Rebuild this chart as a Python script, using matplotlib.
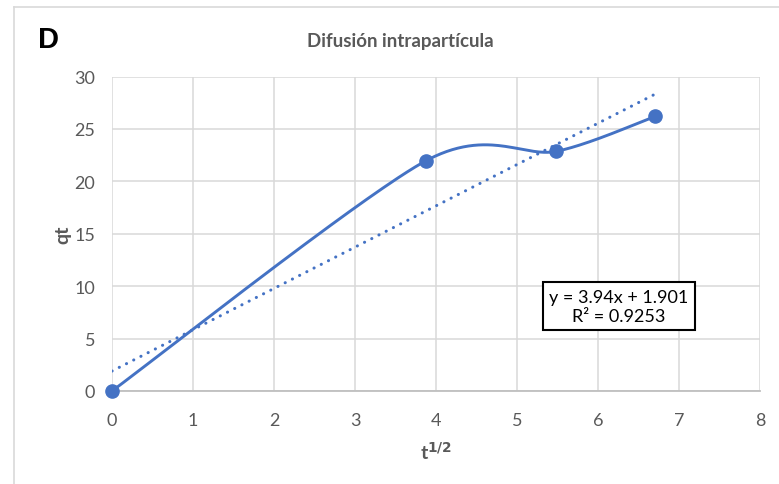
import numpy as np
import matplotlib
matplotlib.use("Agg")
import matplotlib.pyplot as plt
from matplotlib.lines import Line2D

# Data
t_minutes = [0, 15, 30, 45]
x_sqrt_t = [0.0, 3.873, 5.477, 6.708]
qt = [0.0, 21.95, 22.85, 26.2]
slope = 3.94
intercept = 1.901
r2 = 0.9253
x_ticks = [0, 1, 2, 3, 4, 5, 6, 7, 8]
y_ticks = [0, 5, 10, 15, 20, 25, 30]

BLUE = "#4472C4"
GRID = "#d9d9d9"
TXT = "#595959"
FONT = ["Lato", "DejaVu Sans"]
plt.rcParams["font.family"] = FONT


def excel_smooth(xs, ys, k=0.14, n=60):
    P = np.column_stack([xs, ys]).astype(float)
    pts = [P[0]] + list(P) + [P[-1]]
    out = []
    for i in range(1, len(pts) - 2):
        p0, p1, p2, p3 = pts[i - 1], pts[i], pts[i + 1], pts[i + 2]
        c1 = p1 + (p2 - p0) * k
        c2 = p2 - (p3 - p1) * k
        t = np.linspace(0, 1, n)[:, None]
        seg = ((1 - t) ** 3) * p1 + 3 * ((1 - t) ** 2) * t * c1 + 3 * (1 - t) * t ** 2 * c2 + t ** 3 * p2
        out.append(seg if i == 1 else seg[1:])
    c = np.vstack(out)
    return c[:, 0], c[:, 1]


fig = plt.figure(figsize=(7.79, 4.85), dpi=100)
ax = fig.add_axes([0.1438, 0.1918, 0.8318, 0.6484])

# frame of chart area (left and top edges visible)
fig.add_artist(Line2D([14 / 779, 14 / 779], [0, 1 - 8 / 485], transform=fig.transFigure, color=GRID, lw=1.2))
fig.add_artist(Line2D([14 / 779, 1], [1 - 8 / 485, 1 - 8 / 485], transform=fig.transFigure, color=GRID, lw=1.2))

ax.set_xlim(0, 8)
ax.set_ylim(0, 30)
ax.set_xticks(x_ticks)
ax.set_yticks(y_ticks)
ax.grid(True, color=GRID, lw=1.1)
ax.set_axisbelow(True)
for s in ["top", "right", "left"]:
    ax.spines[s].set_visible(False)
ax.spines["bottom"].set_color("#bfbfbf")
ax.spines["bottom"].set_linewidth(1.3)
ax.tick_params(length=0, labelsize=13, colors=TXT)
ax.tick_params(axis="x", pad=15)
ax.tick_params(axis="y", pad=12)

# smoothed series
sx, sy = excel_smooth(x_sqrt_t, qt)
ax.plot(sx, sy, color=BLUE, lw=2.1, zorder=3, solid_capstyle="round")
ax.plot(x_sqrt_t, qt, "o", color=BLUE, ms=9.5, zorder=4, clip_on=False)

# linear trendline
tx = np.array([min(x_sqrt_t), max(x_sqrt_t)])
ax.plot(tx, slope * tx + intercept, color=BLUE, lw=2.2, ls=(0, (0.05, 2.6)),
        dash_capstyle="round", zorder=3)

ax.text(0.782, 0.269, f"y = {slope}x + {intercept}\nR² = {r2}", transform=ax.transAxes,
        ha="center", va="center", fontsize=13, color="black", linespacing=1.25,
        bbox=dict(boxstyle="square,pad=0.35", fc="white", ec="black", lw=1.5), zorder=5)

ax.set_xlabel("t$^{\\mathbf{1/2}}$", fontsize=14, fontweight="bold", color=TXT, labelpad=9)
ax.set_ylabel("qt", fontsize=14, fontweight="bold", color=TXT, labelpad=2)

fig.text(400 / 779, 1 - 42 / 485, "Difusión intrapartícula", ha="center", va="center",
         fontsize=13.5, fontweight="bold", color=TXT)
fig.text(38 / 779, 1 - 40 / 485, "D", ha="left", va="center", fontsize=21,
         fontweight="bold", color="black", family=["Liberation Sans", "DejaVu Sans"])

fig.savefig("out.png", dpi=100)
